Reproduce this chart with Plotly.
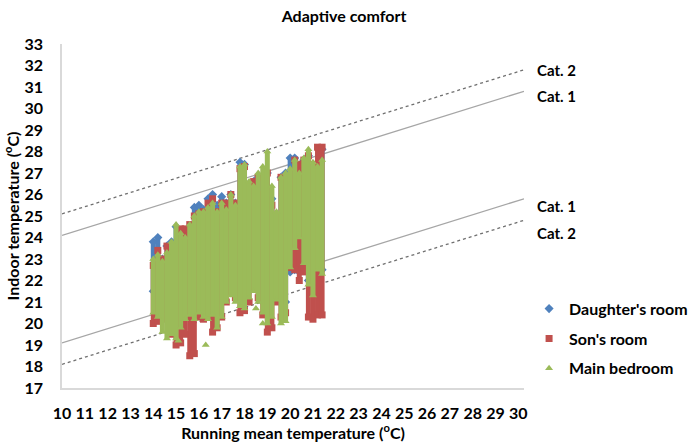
import plotly.graph_objects as go

# Running mean temperature columns (°C)
col_x = [14.0, 14.2, 14.4, 14.6, 14.8, 15.0, 15.2, 15.4, 15.6, 15.8,
         16.0, 16.2, 16.4, 16.6, 16.8, 17.0, 17.2, 17.4, 17.6, 17.8,
         18.0, 18.2, 18.4, 18.6, 18.8, 19.0, 19.2, 19.4, 19.6, 19.8,
         20.0, 20.2, 20.4, 20.6, 20.8, 21.0, 21.2, 21.4]

# indoor temperature spread per column (low / high)
daughter_lo = [21.5, 21.0, 20.5, 20.5, 20.5, 20.5, 21.0, 21.0, 21.0, 21.0,
               21.0, 21.0, 21.0, 21.0, 21.0, 21.2, 21.5, 21.5, 21.5, 21.5,
               21.5, 21.5, 22.0, 21.5, 21.0, 20.5, 21.5, 21.5, 21.0, 21.0,
               22.4, 22.5, 22.4, 22.5, 22.0, 22.5, 22.5, 22.5]
daughter_hi = [23.8, 24.0, 23.0, 23.6, 23.8, 24.5, 24.2, 24.2, 24.5, 25.4,
               25.5, 25.3, 25.8, 26.0, 25.5, 25.9, 25.6, 26.0, 25.6, 27.5,
               27.4, 26.5, 26.6, 26.8, 26.6, 27.0, 25.8, 25.0, 26.8, 27.0,
               27.7, 27.7, 27.3, 27.6, 27.8, 27.4, 27.4, 28.1]

son_lo = [20.0, 20.1, 20.3, 20.2, 19.5, 19.0, 19.1, 19.5, 18.5, 18.6,
          20.3, 20.2, 20.3, 19.6, 19.8, 20.3, 21.0, 21.5, 21.2, 20.5,
          20.6, 21.0, 21.7, 21.2, 20.4, 19.6, 19.8, 21.0, 20.3, 20.5,
          22.6, 22.5, 22.0, 22.4, 20.3, 20.2, 20.4, 20.4]
son_hi = [22.7, 23.4, 23.0, 23.6, 23.6, 23.5, 24.4, 24.4, 24.6, 25.0,
          25.1, 25.2, 25.6, 25.8, 25.2, 25.6, 25.6, 26.0, 25.6, 27.2,
          27.3, 26.4, 26.6, 26.8, 26.0, 27.0, 25.5, 25.0, 26.8, 26.8,
          26.6, 27.6, 27.4, 27.6, 27.8, 27.4, 28.2, 28.2]

main_lo = [20.5, 20.3, 19.6, 19.3, 19.5, 19.3, 19.8, 20.2, 20.4, 20.2,
           20.5, 20.3, 20.2, 20.4, 19.8, 20.3, 21.0, 21.3, 21.0, 20.8,
           20.7, 21.2, 21.5, 21.0, 20.5, 20.0, 20.3, 21.1, 20.0, 20.1,
           22.6, 23.5, 24.0, 22.8, 21.8, 21.3, 22.5, 22.3]
main_hi = [23.0, 23.2, 22.9, 23.3, 23.8, 24.6, 24.2, 24.0, 24.6, 25.0,
           25.2, 25.2, 25.4, 25.6, 25.2, 25.6, 25.3, 26.0, 25.5, 27.3,
           27.4, 26.6, 26.4, 27.0, 27.3, 28.0, 26.4, 25.2, 26.8, 27.0,
           27.2, 27.6, 27.0, 27.7, 28.1, 27.5, 27.3, 27.6]

# stray main bedroom readings
main_extra_x = [15.1, 16.3, 18.5, 18.8]
main_extra_y = [19.2, 19.0, 20.7, 20.0]

# comfort category limits
cat_x = [10, 30.25]
cat2_upper = [25.1, 31.8]
cat1_upper = [24.1, 30.8]
cat1_lower = [19.1, 25.8]
cat2_lower = [18.1, 24.8]

FONT = "Lato"
BLUE = "#4F81BD"
RED = "#C0504D"
GREEN = "#9BBB59"


def column_segments(xs, lo, hi):
    # vertical segment per column, separated by None
    sx, sy = [], []
    for x, l, h in zip(xs, lo, hi):
        sx += [x, x, None]
        sy += [l, h, None]
    return sx, sy


fig = go.Figure()

cat_lines = [
    (cat2_upper, "#707070", "dot"),
    (cat1_upper, "#A6A6A6", "solid"),
    (cat1_lower, "#A6A6A6", "solid"),
    (cat2_lower, "#707070", "dot"),
]
for ys, color, dash in cat_lines:
    fig.add_trace(go.Scatter(x=cat_x, y=ys, mode="lines",
                             line=dict(color=color, width=1.3, dash=dash),
                             showlegend=False, hoverinfo="skip"))

series = [
    ("Daughter's room", daughter_lo, daughter_hi, BLUE, "diamond"),
    ("Son's room", son_lo, son_hi, RED, "square"),
    ("Main bedroom", main_lo, main_hi, GREEN, "triangle-up"),
]
for name, lo, hi, color, symbol in series:
    sx, sy = column_segments(col_x, lo, hi)
    fig.add_trace(go.Scatter(
        x=sx, y=sy, mode="lines", line=dict(color=color, width=5),
        showlegend=False, legendgroup=name, hoverinfo="skip",
    ))
    fig.add_trace(go.Scatter(
        x=col_x + col_x, y=hi + lo, mode="markers", name=name,
        legendgroup=name,
        marker=dict(color=color, symbol=symbol, size=7),
    ))

fig.add_trace(go.Scatter(
    x=main_extra_x, y=main_extra_y, mode="markers", showlegend=False,
    marker=dict(color=GREEN, symbol="triangle-up", size=7),
))

cat_labels = [("Cat. 2", 31.8), ("Cat. 1", 30.6), ("Cat. 1", 25.45), ("Cat. 2", 24.2)]
for text, yv in cat_labels:
    fig.add_annotation(text=text, x=1.024, xref="paper", y=yv, yref="y",
                       xanchor="left", yanchor="middle", showarrow=False,
                       font=dict(family=FONT, size=15, color="black", weight="bold"))

fig.update_layout(
    width=688, height=442,
    margin=dict(l=62, r=164, t=44, b=54, autoexpand=False),
    plot_bgcolor="white", paper_bgcolor="white",
    font=dict(family=FONT, size=16, color="black", weight="bold"),
    title=dict(text="Adaptive comfort", x=0.5, xref="container", xanchor="center",
               y=0.962, yref="container", yanchor="middle",
               font=dict(family=FONT, size=16, color="black", weight="bold")),
    legend=dict(x=1.011, y=0.28, xanchor="left", yanchor="top",
                tracegroupgap=6, itemwidth=30,
                font=dict(family=FONT, size=16, color="black", weight="bold")),
    xaxis=dict(range=[10, 30.25], tickvals=list(range(10, 31)),
               showgrid=False, zeroline=False, showline=True, automargin=False,
               linecolor="#D9D9D9", linewidth=1.5, ticks="",
               ticklabelstandoff=10,
               tickfont=dict(size=16),
               title=dict(text="Running mean temperature (<sup>o</sup>C)",
                          standoff=4, font=dict(size=16))),
    yaxis=dict(range=[17, 33], tickvals=list(range(17, 34)),
               showgrid=False, zeroline=False, showline=True, automargin=False,
               linecolor="#D9D9D9", linewidth=1.5, ticks="",
               ticklabelstandoff=14,
               tickfont=dict(size=16),
               title=dict(text="Indoor temperature (<sup>o</sup>C)",
                          standoff=1, font=dict(size=16))),
)

fig.write_html("out.html", config={"displayModeBar": False},
               post_script="document.body.style.margin='0';")
